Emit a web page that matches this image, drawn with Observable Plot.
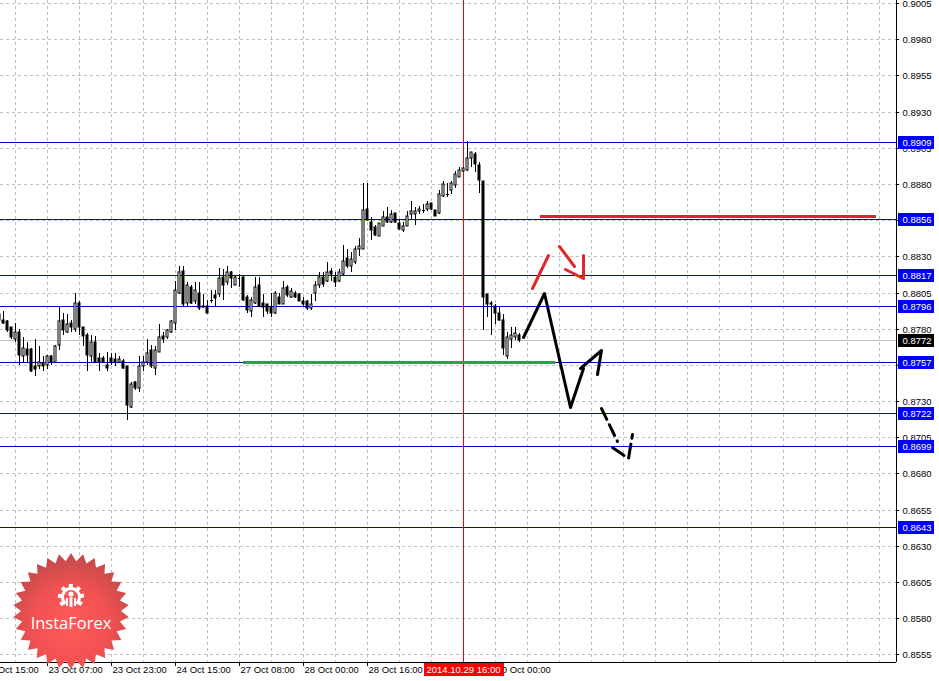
<!DOCTYPE html>
<html>
<head>
<meta charset="utf-8">
<script src="https://cdn.jsdelivr.net/npm/d3@7"></script>
<script src="https://cdn.jsdelivr.net/npm/@observablehq/plot@0.6"></script>
<style>
html,body{margin:0;padding:0;background:#fff;}
#chart svg{display:block;}
</style>
</head>
<body>
<div id="chart"></div>
<script>
// ---------- DATA ----------
const firstBar = -12; // bar index of the first candle (bar 0 = 23 Oct 07:00)
const open = [0.8786,0.8786,0.8785,0.8781,0.8773,0.8778,0.8761,0.8766,0.8766,0.8754,0.8754,0.8756,
0.8755,0.8761,0.8757,0.8769,0.8786,0.8778,0.8784,0.8780,0.8798,0.8781,0.8776,0.8761,0.8771,0.8760,0.8760,0.8755,0.8760,0.8759,0.8757,0.8758,
0.8754,0.8726,0.8743,0.8739,0.8754,0.8757,0.8765,0.8753,0.8764,0.8775,0.8774,0.8778,0.8784,0.8805,0.8820,0.8798,
0.8809,0.8799,0.8805,0.8796,0.8796,0.8800,0.8803,0.8804,0.8816,0.8812,0.8819,0.8810,0.8815,0.8816,0.8802,0.8792,
0.8798,0.8810,0.8798,0.8797,0.8795,0.8791,0.8802,0.8797,0.8809,0.8802,0.8805,0.8804,0.8799,0.8799,0.8794,0.8805,
0.8810,0.8816,0.8813,0.8820,0.8816,0.8813,0.8818,0.8829,0.8823,0.8826,0.8835,0.8835,0.8863,0.8854,0.8850,0.8844,
0.8851,0.8857,0.8854,0.8860,0.8853,0.8848,0.8851,0.8859,0.8859,0.8861,0.8862,0.8863,0.8867,0.8862,0.8860,0.8872,
0.8873,0.8876,0.8879,0.8885,0.8889,0.8890,0.8898,0.8901,0.8893,0.8882,0.8804,0.8798,0.8796,0.8791,0.8786,0.8761,
0.8773,0.8774,0.8776];
const high = [0.8792,0.8792,0.8786,0.8781,0.8784,0.8780,0.8774,0.8771,0.8767,0.8773,0.8768,0.8761,
0.8762,0.8762,0.8769,0.8796,0.8791,0.8790,0.8786,0.8805,0.8799,0.8781,0.8777,0.8776,0.8775,0.8763,0.8761,0.8764,0.8763,0.8763,0.8761,0.8759,
0.8754,0.8743,0.8744,0.8761,0.8761,0.8773,0.8769,0.8768,0.8783,0.8778,0.8780,0.8786,0.8813,0.8823,0.8823,0.8812,
0.8810,0.8812,0.8812,0.8804,0.8800,0.8807,0.8807,0.8822,0.8821,0.8823,0.8820,0.8817,0.8818,0.8817,0.8803,0.8802,
0.8816,0.8816,0.8804,0.8797,0.8805,0.8806,0.8805,0.8813,0.8810,0.8808,0.8806,0.8805,0.8802,0.8800,0.8804,0.8813,
0.8819,0.8819,0.8826,0.8822,0.8819,0.8821,0.8838,0.8835,0.8833,0.8837,0.8843,0.8881,0.8881,0.8857,0.8852,0.8853,
0.8861,0.8864,0.8862,0.8860,0.8856,0.8854,0.8861,0.8868,0.8864,0.8865,0.8866,0.8868,0.8867,0.8862,0.8876,0.8882,
0.8881,0.8882,0.8889,0.8892,0.8892,0.8910,0.8902,0.8902,0.8895,0.8882,0.8804,0.8799,0.8797,0.8795,0.8790,0.8778,
0.8781,0.8781,0.8777];
const low = [0.8784,0.8783,0.8778,0.8773,0.8771,0.8755,0.8756,0.8756,0.8750,0.8747,0.8752,0.8751,
0.8752,0.8755,0.8756,0.8765,0.8776,0.8777,0.8778,0.8778,0.8776,0.8768,0.8751,0.8757,0.8756,0.8751,0.8756,0.8751,0.8755,0.8754,0.8756,0.8752,
0.8717,0.8725,0.8738,0.8736,0.8751,0.8755,0.8753,0.8748,0.8764,0.8770,0.8773,0.8777,0.8779,0.8804,0.8795,0.8796,
0.8797,0.8797,0.8793,0.8794,0.8790,0.8798,0.8795,0.8802,0.8800,0.8810,0.8808,0.8810,0.8809,0.8799,0.8791,0.8788,
0.8797,0.8795,0.8788,0.8790,0.8788,0.8790,0.8797,0.8797,0.8802,0.8801,0.8801,0.8799,0.8796,0.8793,0.8793,0.8799,
0.8808,0.8809,0.8812,0.8813,0.8809,0.8812,0.8817,0.8822,0.8819,0.8825,0.8830,0.8835,0.8855,0.8841,0.8844,0.8844,
0.8851,0.8853,0.8853,0.8853,0.8848,0.8847,0.8851,0.8855,0.8852,0.8859,0.8860,0.8861,0.8862,0.8858,0.8859,0.8871,
0.8871,0.8873,0.8877,0.8885,0.8888,0.8889,0.8892,0.8888,0.8874,0.8779,0.8788,0.8776,0.8783,0.8785,0.8762,0.8759,
0.8767,0.8772,0.8771];
const close = [0.8790,0.8784,0.8779,0.8774,0.8778,0.8762,0.8767,0.8762,0.8751,0.8752,0.8757,0.8754,
0.8761,0.8757,0.8768,0.8785,0.8779,0.8783,0.8781,0.8798,0.8781,0.8775,0.8762,0.8771,0.8757,0.8757,0.8757,0.8753,0.8757,0.8757,0.8759,0.8753,
0.8727,0.8742,0.8739,0.8754,0.8757,0.8763,0.8754,0.8765,0.8774,0.8773,0.8779,0.8785,0.8807,0.8819,0.8797,0.8810,
0.8798,0.8807,0.8794,0.8795,0.8791,0.8800,0.8801,0.8815,0.8810,0.8819,0.8815,0.8816,0.8815,0.8800,0.8793,0.8800,
0.8809,0.8796,0.8795,0.8792,0.8791,0.8805,0.8797,0.8808,0.8803,0.8806,0.8802,0.8799,0.8797,0.8794,0.8797,0.8810,
0.8816,0.8811,0.8819,0.8818,0.8812,0.8819,0.8827,0.8823,0.8828,0.8835,0.8837,0.8862,0.8855,0.8848,0.8845,0.8853,
0.8857,0.8854,0.8859,0.8854,0.8849,0.8851,0.8858,0.8861,0.8861,0.8863,0.8862,0.8866,0.8863,0.8858,0.8873,0.8880,
0.8873,0.8881,0.8887,0.8890,0.8891,0.8898,0.8902,0.8894,0.8883,0.8802,0.8797,0.8797,0.8791,0.8786,0.8767,0.8774,
0.8776,0.8777,0.8772];

const timeTickBars   = [-16, 0, 16, 32, 48, 64, 80, 112];
const timeTickLabels = ["22 Oct 15:00","23 Oct 07:00","23 Oct 23:00","24 Oct 15:00","27 Oct 08:00",
                        "28 Oct 00:00","28 Oct 16:00","30 Oct 00:00"];
const gridBars = [-8,0,8,16,24,32,40,48,56,64,72,80,88,96,104,112,120,128,136,144,152,160,168,176,184,192,200,208];
const priceTicks = [0.9005,0.8980,0.8955,0.8930,0.8905,0.8880,0.8855,0.8830,0.8805,0.8780,0.8755,
                    0.8730,0.8705,0.8680,0.8655,0.8630,0.8605,0.8580,0.8555];
const hiddenPriceLabels = [0.8855, 0.8755]; // covered by the level boxes
const levelPrices = [0.8909,0.8856,0.8817,0.8796,0.8757,0.8722,0.8699,0.8643];
const currentPrice = 0.8772;
const markerBar = 104;
const markerLabel = "2014.10.29 16:00";
const visibleBars = [-11.75, 212.25];
const priceDomain = [0.854974, 0.900711];

// hand-drawn forecast on the chart (bar index, price)
const supportSeg = [{x1: 49, x2: 127, p: 0.8757}];
const targetSeg  = [{x1: 123.25, x2: 207.25, p: 0.8858}];
const blackPathBars   = [119, 124.25, 130.75, 134];
const blackPathPrices = [0.8774, 0.8805, 0.8726, 0.8753];
const blackHeadBars   = [133.25, 138.5, 137.5];
const blackHeadPrices = [0.8753, 0.8765, 0.8749];
const dashBars   = [138.5, 142.5];
const dashPrices = [0.8725, 0.87025];
const dashHeadBars   = [141.25, 145.25, 146.25];
const dashHeadPrices = [0.8698, 0.8691, 0.8707];
const redUpBars   = [121.25, 125.25];
const redUpPrices = [0.8808, 0.8831];
const redDownBars   = [128, 131.75];
const redDownPrices = [0.8837, 0.8823];
const redHeadBars   = [129.5, 134, 134];
const redHeadPrices = [0.8821, 0.8815, 0.8831];

// ---------- CHART ----------
const W = 939, H = 681, frameRight = 896, frameBottom = 662;
const font = '"Liberation Sans", Arial, sans-serif';
const levelColor = "#0000d8";
const red = "#e0282c";

const bars = open.map((o, k) => ({i: firstBar + k, o, h: high[k], l: low[k], c: close[k]}));
const bodies = bars.filter(d => d.o !== d.c);
const dojis = bars.filter(d => d.o === d.c);
const pts = (xs, ys) => xs.map((x, k) => ({x, p: ys[k]}));
const timeTicks = timeTickBars.map((x, k) => ({x, label: timeTickLabels[k]}));
const shownPriceLabels = priceTicks.filter(p => !hiddenPriceLabels.includes(p));

const chart = Plot.plot({
  width: W, height: H,
  marginLeft: 0, marginRight: W - frameRight, marginTop: 0, marginBottom: H - frameBottom,
  style: {fontFamily: font, background: "#fff", overflow: "visible"},
  x: {domain: visibleBars, axis: null, round: true},
  y: {domain: priceDomain, axis: null, round: true},
  marks: [
    Plot.ruleY(priceTicks, {stroke: "#c0c0c0", strokeDasharray: "3,3"}),
    Plot.ruleX(gridBars, {stroke: "#c0c0c0", strokeDasharray: "3,3"}),
    Plot.ruleY([currentPrice], {stroke: "#c0c0c0"}),
    Plot.ruleY(levelPrices, {stroke: levelColor}),
    Plot.ruleX([markerBar], {stroke: "#ff0000"}),
    Plot.ruleY(supportSeg, {y: "p", x1: "x1", x2: "x2", stroke: "#2da14a", strokeWidth: 3}),
    Plot.ruleX(bars, {x: "i", y1: "l", y2: "h", stroke: "#000"}),
    Plot.rect(bodies, {x1: d => d.i - 0.25, x2: d => d.i + 0.25, y1: "o", y2: "c",
      fill: d => d.c < d.o ? "#000" : "#fff", stroke: "#000", strokeWidth: 1}),
    Plot.ruleY(dojis, {y: "o", x1: d => d.i - 0.375, x2: d => d.i + 0.375, stroke: "#000"}),
    Plot.ruleY(targetSeg, {y: "p", x1: "x1", x2: "x2", stroke: "#d42a2a", strokeWidth: 3}),
    Plot.line(pts(redUpBars, redUpPrices), {x: "x", y: "p", stroke: red, strokeWidth: 3}),
    Plot.line(pts(redDownBars, redDownPrices), {x: "x", y: "p", stroke: red, strokeWidth: 3}),
    Plot.line(pts(redHeadBars, redHeadPrices), {x: "x", y: "p", stroke: red, strokeWidth: 3}),
    Plot.line(pts(blackPathBars, blackPathPrices), {x: "x", y: "p", stroke: "#000", strokeWidth: 3}),
    Plot.line(pts(blackHeadBars, blackHeadPrices), {x: "x", y: "p", stroke: "#000", strokeWidth: 3}),
    Plot.line(pts(dashBars, dashPrices), {x: "x", y: "p", stroke: "#000", strokeWidth: 3, strokeDasharray: "12,6"}),
    Plot.line(pts(dashHeadBars, dashHeadPrices), {x: "x", y: "p", stroke: "#000", strokeWidth: 3, strokeDasharray: "14,6"}),
    // axes
    Plot.ruleX([visibleBars[1]], {stroke: "#000"}),
    Plot.ruleY([priceDomain[0]], {stroke: "#000"}),
    Plot.ruleX(timeTickBars, {stroke: "#000", insetTop: frameBottom, insetBottom: -4}),
    Plot.ruleY(priceTicks, {stroke: "#000", insetLeft: frameRight, insetRight: -3}),
    Plot.text(shownPriceLabels, {y: d => d, text: d => d.toFixed(4), frameAnchor: "right", textAnchor: "start",
      dx: 6, fontSize: 9.5, fill: "#000"}),
    Plot.text(timeTicks, {x: "x", text: "label", frameAnchor: "bottom", textAnchor: "start",
      dx: 1, dy: 10, fontSize: 9.5, fill: "#000"}),
    Plot.text([currentPrice], {y: d => d, text: d => d.toFixed(4), frameAnchor: "right", textAnchor: "start",
      dx: 6, fontSize: 9.5, fill: "#fff", ariaDescription: "current-label"}),
    Plot.text(levelPrices, {y: d => d, text: d => d.toFixed(4), frameAnchor: "right", textAnchor: "start",
      dx: 6, fontSize: 9.5, fill: "#fff", ariaDescription: "level-labels"}),
    Plot.text([markerLabel], {x: markerBar, text: d => d, frameAnchor: "bottom", textAnchor: "middle",
      dy: 10, fontSize: 9.5, fill: "#fff", ariaDescription: "marker-label"})
  ]
});
document.getElementById("chart").appendChild(chart);

// label boxes behind the axis labels
const svg = d3.select(chart);
const svgRect = chart.getBoundingClientRect();
function boxes(desc, fill, wFixed) {
  const g = chart.querySelector(`g[aria-description="${desc}"]`);
  if (!g) return;
  const layer = document.createElementNS("http://www.w3.org/2000/svg", "g");
  g.parentNode.insertBefore(layer, g);
  g.querySelectorAll("text").forEach(t => {
    const r = t.getBoundingClientRect();
    const cy = (r.top + r.bottom) / 2 - svgRect.top;
    const rect = document.createElementNS("http://www.w3.org/2000/svg", "rect");
    const x = wFixed ? frameRight + 2 : Math.round(r.left - svgRect.left - 3);
    const w = wFixed ? 36 : Math.round(r.width + 6);
    rect.setAttribute("x", x); rect.setAttribute("width", w);
    rect.setAttribute("y", Math.round(cy - 6.5)); rect.setAttribute("height", 13);
    rect.setAttribute("fill", fill);
    layer.appendChild(rect);
  });
}
boxes("level-labels", "#0000ff", true);
boxes("current-label", "#000", true);
boxes("marker-label", "#ff0000", false);

// InstaForex seal
const cx = 71, cy = 611, R = 58, r0 = 50, n = 30;
const seal = svg.append("g");
const defs = svg.append("defs");
const grad = defs.append("radialGradient").attr("id", "sealGrad").attr("cx", "50%").attr("cy", "62%").attr("r", "60%");
grad.append("stop").attr("offset", "0%").attr("stop-color", "#ff5656");
grad.append("stop").attr("offset", "55%").attr("stop-color", "#f24c4c");
grad.append("stop").attr("offset", "100%").attr("stop-color", "#c24444");
const starPts = d3.range(2 * n).map(k => {
  const a = Math.PI * k / n - Math.PI / 2, rr = k % 2 ? r0 : R;
  return [cx + rr * Math.cos(a), cy + rr * Math.sin(a)];
});
seal.append("path").attr("d", "M" + starPts.join("L") + "Z").attr("fill", "url(#sealGrad)").attr("opacity", 0.97);
const gx = 71, gy = 597;
const gear = seal.append("g").attr("fill", "#fff").attr("stroke", "none");
gear.append("path").attr("d", d3.arc()({innerRadius: 7, outerRadius: 10, startAngle: -2.45, endAngle: 2.45})).attr("transform", `translate(${gx},${gy})`);
d3.range(-2.2, 2.3, 0.73).forEach(a => {
  gear.append("rect").attr("x", -2).attr("y", -13).attr("width", 4).attr("height", 4)
    .attr("transform", `translate(${gx},${gy}) rotate(${a * 180 / Math.PI})`);
});
gear.append("circle").attr("cx", gx).attr("cy", gy - 3).attr("r", 2.6);
gear.append("rect").attr("x", gx - 1.4).attr("y", gy).attr("width", 2.8).attr("height", 10);
gear.append("rect").attr("x", gx - 5).attr("y", gy + 1).attr("width", 2).attr("height", 8);
gear.append("rect").attr("x", gx + 3).attr("y", gy + 1).attr("width", 2).attr("height", 8);
seal.append("text").attr("x", cx).attr("y", 629).attr("text-anchor", "middle")
  .attr("font-family", '"Open Sans", "Noto Sans", sans-serif').attr("font-size", 16.5).attr("fill", "#fff")
  .text("InstaForex");
</script>
</body>
</html>
